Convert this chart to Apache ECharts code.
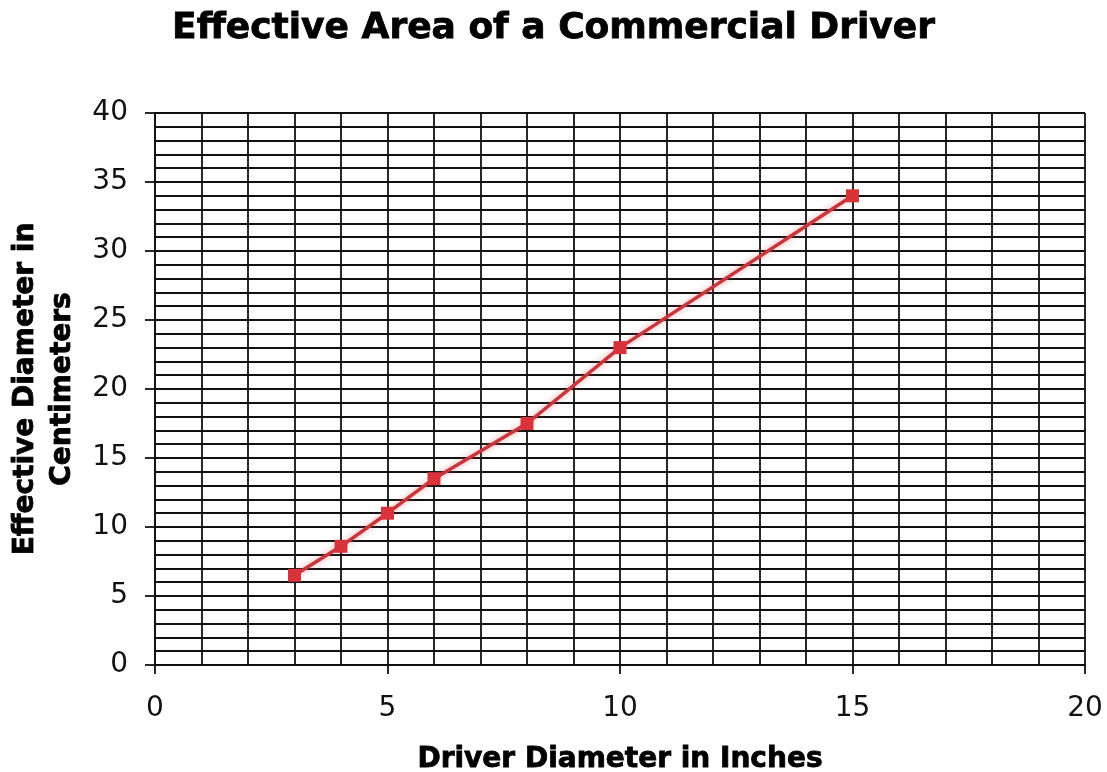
<!DOCTYPE html>
<html>
<head>
<meta charset="utf-8">
<title>Effective Area of a Commercial Driver</title>
<script src="https://cdn.jsdelivr.net/npm/echarts@6/dist/echarts.min.js"></script>
<style>
  html, body { margin: 0; padding: 0; background: #ffffff; }
  #chart { width: 1107px; height: 772px; }
</style>
</head>
<body>
<div id="chart"></div>
<script>
// Driver diameter (inches) against effective diameter (centimeters)
const driverInches = [3, 4, 5, 6, 8, 10, 15];
const effectiveCm = [6.5, 8.6, 11, 13.5, 17.5, 23, 34];

const xRange = [0, 20];
const yRange = [0, 40];

const chart = echarts.init(document.getElementById('chart'), null, { renderer: 'canvas' });

const font = 'DejaVu Sans, Verdana, sans-serif';
const gridLine = { color: '#111111', width: 1.8 };
const heavyText = { fontFamily: font, fontWeight: 'bold', color: '#000000', textBorderColor: '#000000', textBorderWidth: 0.8 };

chart.setOption({
  backgroundColor: '#ffffff',
  animation: false,
  title: {
    text: 'Effective Area of a Commercial Driver',
    left: 'center',
    top: 6,
    textStyle: Object.assign({ fontSize: 36 }, heavyText)
  },
  grid: { left: 155, right: 22, top: 113, bottom: 107, outerBoundsMode: 'none', containLabel: false },
  xAxis: {
    type: 'value',
    min: xRange[0],
    max: xRange[1],
    interval: 5,
    name: 'Driver Diameter in Inches',
    nameLocation: 'middle',
    nameGap: 81,
    nameTextStyle: Object.assign({ fontSize: 28 }, heavyText),
    axisLine: { show: true, lineStyle: { color: '#111111', width: 1.8 } },
    axisTick: { show: true, length: 9, lineStyle: { color: '#111111', width: 1.8 } },
    axisLabel: { fontFamily: font, fontSize: 28, color: '#111111', margin: 30 },
    splitLine: { show: true, lineStyle: gridLine },
    minorTick: { show: false, splitNumber: 5 },
    minorSplitLine: { show: true, lineStyle: gridLine }
  },
  yAxis: {
    type: 'value',
    min: yRange[0],
    max: yRange[1],
    interval: 5,
    name: 'Effective Diameter in\nCentimeters',
    nameLocation: 'middle',
    nameGap: 68,
    nameRotate: 90,
    nameTextStyle: Object.assign({ fontSize: 28, lineHeight: 37 }, heavyText),
    axisLine: { show: true, lineStyle: { color: '#111111', width: 1.8 } },
    axisTick: { show: true, length: 10, lineStyle: { color: '#111111', width: 1.8 } },
    axisLabel: { fontFamily: font, fontSize: 28, color: '#111111', margin: 27 },
    splitLine: { show: true, lineStyle: gridLine },
    minorTick: { show: false, splitNumber: 5 },
    minorSplitLine: { show: true, lineStyle: gridLine }
  },
  series: [{
    type: 'line',
    data: driverInches.map((x, i) => [x, effectiveCm[i]]),
    symbol: 'rect',
    symbolSize: 13,
    lineStyle: {
      color: '#c8363c',
      width: 3.5,
      shadowColor: 'rgba(220, 80, 90, 0.55)',
      shadowBlur: 6
    },
    itemStyle: { color: '#d8323a' }
  }]
});
</script>
</body>
</html>
